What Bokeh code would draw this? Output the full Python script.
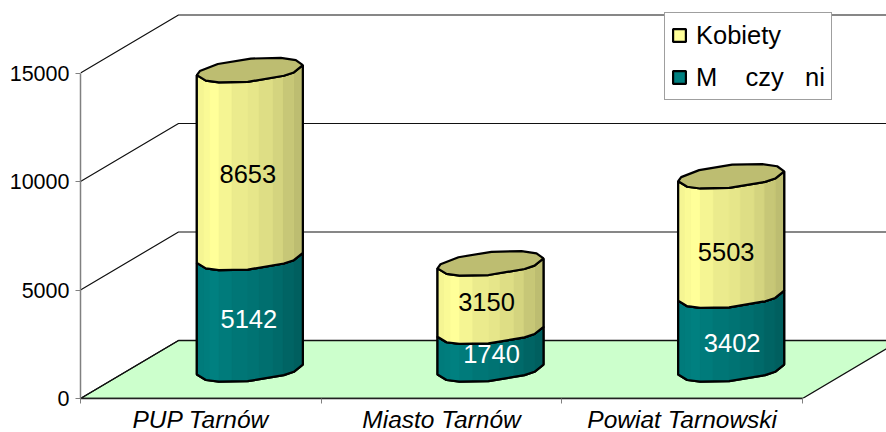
from bokeh.plotting import figure
from bokeh.models import (ColumnDataSource, FixedTicker, Legend, LegendItem, LinearAxis, Range1d)
from bokeh.core.properties import value
from bokeh.embed import file_html
from bokeh.resources import INLINE
import numpy as np

# ---- data ----
categories = ["PUP Tarnów", "Miasto Tarnów", "Powiat Tarnowski"]
men = [5142, 1740, 3402]
women = [8653, 3150, 5503]
y_ticks = [0, 5000, 10000, 15000]
legend_women = "Kobiety"
legend_men = "M\u00a0\u00a0\u00a0\u00a0czy\u00a0\u00a0\u00a0ni"

# ---- appearance ----
FONT = "Liberation Sans"
YELLOW = (255, 255, 153)
TEAL = (0, 128, 128)
FLOOR = "#CCFFCC"
SHADE = [0.96, 0.98, 1.0, 0.96, 0.92, 0.90, 0.87, 0.83, 0.78, 0.74]
STRIP_X = [-53, -46, -40, -31, -18, -2, 9, 23, 33, 44, 53]     # px from cylinder axis
FRONT_VX = [-53, -44, -31, -2, 34, 44, 53]                     # outline vertices
BACK_VX = [53, 46, 31, 1, -32, -50]
R_PX, C_PX, TAU = 53.0, 12.5, np.radians(23.4)
PX_PER_CAT = 240.67
PX_PER_VAL = 0.0217
DEPTH_X_PX, DEPTH_Y_PX = 98.0, 58.0
FRAME_W, FRAME_H = 806, 398

depth_x = DEPTH_X_PX / PX_PER_CAT
depth_y = DEPTH_Y_PX / PX_PER_VAL


def rgb(c, f=1.0):
    return "#%02X%02X%02X" % tuple(int(round(v * f)) for v in c)


p = figure(width=886, height=432, frame_width=FRAME_W, frame_height=FRAME_H,
           output_backend="svg", toolbar_location=None,
           x_range=Range1d(0, FRAME_W / PX_PER_CAT), y_range=Range1d(0, FRAME_H / PX_PER_VAL),
           x_axis_type=None, y_axis_type=None,
           min_border_left=80, min_border_right=0, min_border_top=0, min_border_bottom=0,
           background_fill_color="white", border_fill_color="white", outline_line_color=None)
p.grid.visible = False

n = len(categories)
top_y = y_ticks[-1]

# floor
p.patch([0, n, n + depth_x, depth_x], [0, 0, depth_y, depth_y], fill_color=FLOOR,
        line_color="#111111", line_width=1.3)
# wall grid lines
for v in y_ticks:
    p.line([0, depth_x, n + depth_x], [v, v + depth_y, v + depth_y], line_color="#111111", line_width=1.2)

fv = np.array(FRONT_VX, float)
bv = np.array(BACK_VX, float)
fvy = C_PX * np.sin(2 * np.pi - np.arccos(fv / R_PX) + TAU)
bvy = C_PX * np.sin(np.arccos(bv / R_PX) + TAU)

sx_px = np.array(STRIP_X, float)
sy_px = np.interp(sx_px, fv, fvy)

fxd, fyd = fv / PX_PER_CAT, fvy / PX_PER_VAL
bxd, byd = bv / PX_PER_CAT, bvy / PX_PER_VAL
sxd, syd = sx_px / PX_PER_CAT, sy_px / PX_PER_VAL

legend_renderers = {}

for i in range(n):
    cx = i + 0.5 + depth_x / 2
    cy0 = depth_y / 2
    base = 0
    for vals, col, name in ((men, TEAL, "men"), (women, YELLOW, "women")):
        lo = cy0 + base
        hi = lo + vals[i]
        xs = list(cx + fxd) + list((cx + fxd)[::-1])
        ys = list(lo + fyd) + list((hi + fyd)[::-1])
        r = p.patch(xs, ys, fill_color=rgb(col), line_color="black", line_width=2.2)
        legend_renderers.setdefault(name, r)
        # shaded strips
        px_, py_ = [], []
        for k in range(len(sxd) - 1):
            px_.append([cx + sxd[k], cx + sxd[k + 1], cx + sxd[k + 1], cx + sxd[k]])
            py_.append([lo + syd[k], lo + syd[k + 1], hi + syd[k + 1], hi + syd[k]])
        colors = [rgb(col, f) for f in SHADE]
        p.patches(px_, py_, fill_color=colors, line_color=colors, line_width=0.3)
        # outline over the strips
        p.patch(xs, ys, fill_color=None, line_color="black", line_width=2.2)
        base += vals[i]
    # top ellipse
    cy_top = cy0 + base
    ex = list(cx + fxd) + list(cx + bxd)
    ey = list(cy_top + fyd) + list(cy_top + byd)
    p.patch(ex, ey, fill_color=rgb(YELLOW, SHADE[-1]), line_color="black", line_width=2.2)

# value labels
label_dx = [-2, -4, -5, -1, 1, 1]
label_dy = [-10, -4, -16, -5.5, -3, -10]
lab_x, lab_y, lab_t, lab_c = [], [], [], []
for i in range(n):
    cx = i + 0.5 + depth_x / 2
    lab_x.append(cx); lab_y.append(depth_y / 2 + men[i] + women[i] / 2); lab_t.append(str(women[i])); lab_c.append("black")
for i in range(n):
    cx = i + 0.5 + depth_x / 2
    lab_x.append(cx); lab_y.append(depth_y / 2 + men[i] / 2); lab_t.append(str(men[i])); lab_c.append("white")
src = ColumnDataSource(dict(x=lab_x, y=lab_y, t=lab_t, c=lab_c, dx=label_dx, dy=[-d for d in label_dy]))
p.text("x", "y", text="t", source=src, text_color="c", x_offset="dx", y_offset="dy",
       text_align="center", text_baseline="middle", text_font=value(FONT), text_font_size="25.5px")

# axes
yax = LinearAxis(ticker=FixedTicker(ticks=y_ticks), bounds=(0, top_y))
yax.axis_line_color = "#808080"; yax.axis_line_width = 1.5
yax.major_tick_line_color = "#808080"; yax.major_tick_in = 0; yax.major_tick_out = 5
yax.minor_tick_line_color = None
yax.major_label_text_font = FONT; yax.major_label_text_font_size = "21.5px"
yax.major_label_text_color = "black"; yax.major_label_standoff = 6
p.add_layout(yax, "left")

xax = LinearAxis(ticker=FixedTicker(ticks=[i + 0.5 for i in range(n)], minor_ticks=list(range(n + 1))),
                 bounds=(0, n))
xax.major_label_overrides = {i + 0.5: c for i, c in enumerate(categories)}
xax.axis_line_color = "#222222"; xax.axis_line_width = 1.5
xax.major_tick_line_color = None; xax.major_tick_in = 0; xax.major_tick_out = 0
xax.minor_tick_line_color = "#808080"; xax.minor_tick_in = 0; xax.minor_tick_out = 5
xax.major_label_text_font = FONT; xax.major_label_text_font_size = "24.5px"
xax.major_label_text_font_style = "italic"; xax.major_label_text_color = "black"
xax.major_label_standoff = 2
p.add_layout(xax, "below")

legend = Legend(items=[LegendItem(label=legend_women, renderers=[legend_renderers["women"]]),
                       LegendItem(label=legend_men, renderers=[legend_renderers["men"]])],
                location=(584, FRAME_H - 100), orientation="vertical",
                glyph_width=16, glyph_height=16, label_standoff=9, label_height=32, label_width=120,
                spacing=10, padding=6, margin=0,
                label_text_font=FONT, label_text_font_size="25.5px", label_text_color="black",
                label_text_baseline="middle",
                border_line_color="#404040", border_line_width=1.3,
                background_fill_color="white", background_fill_alpha=1.0)
p.add_layout(legend, "center")

open("out.html", "w").write(file_html(p, INLINE))
